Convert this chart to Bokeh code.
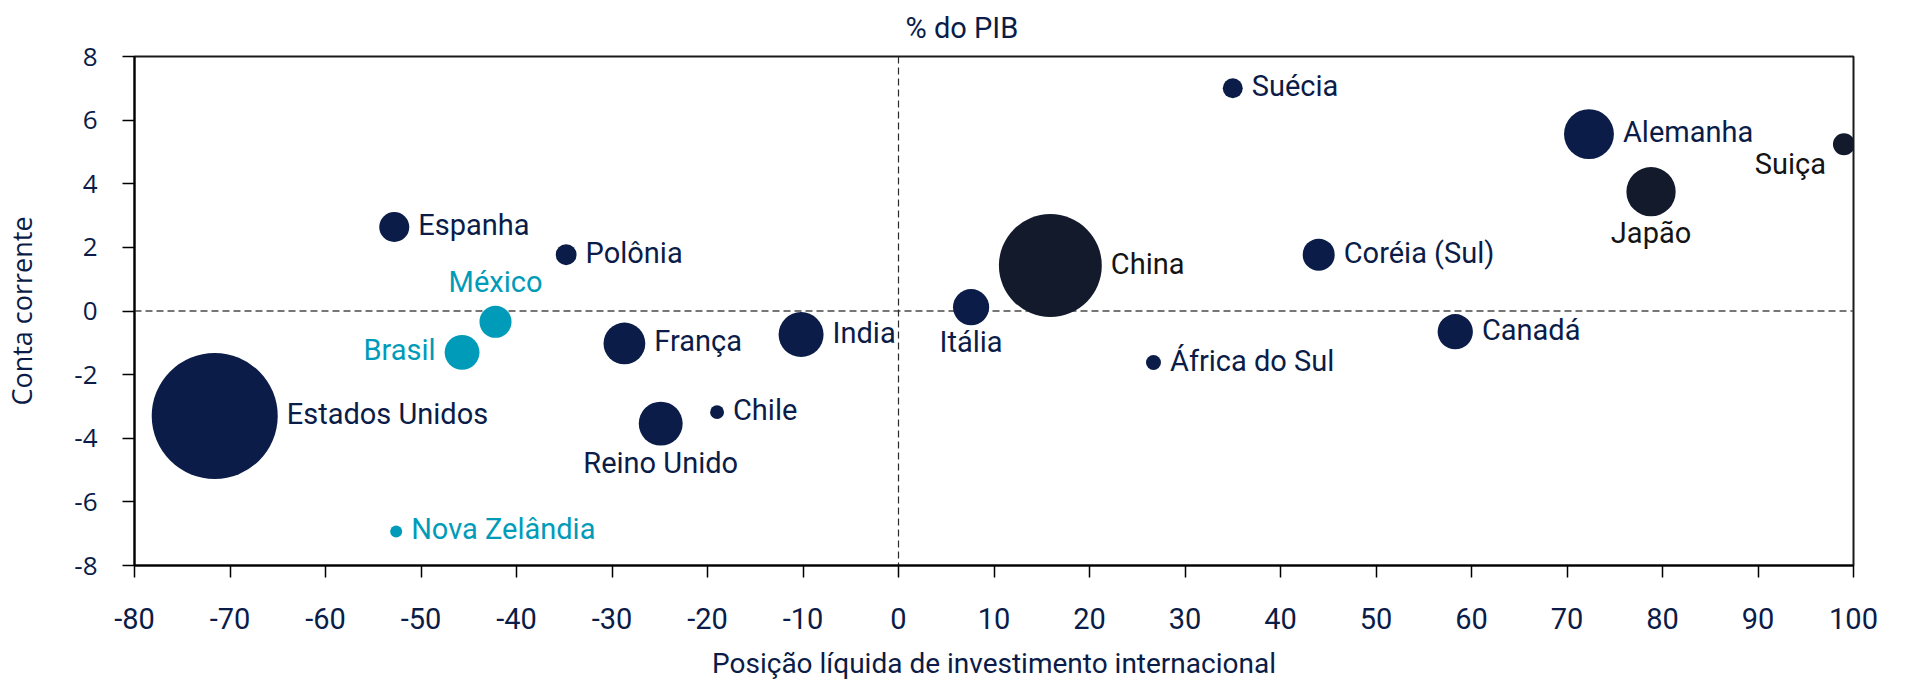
import math
from bokeh.plotting import figure
from bokeh.models import ColumnDataSource, Span, FixedTicker, Title
from bokeh.core.properties import value
from bokeh.embed import file_html
from bokeh.resources import INLINE

# ---------------- data ----------------
paises = ["Estados Unidos", "China", "Alemanha", "Japão", "India", "Reino Unido",
          "França", "Itália", "Brasil", "Canadá", "México", "Coréia (Sul)",
          "Espanha", "Polônia", "Suiça", "Suécia", "Chile", "África do Sul",
          "Nova Zelândia"]
posicao_liquida = [-71.6, 15.9, 72.3, 78.8, -10.2, -24.9, -28.7, 7.6, -45.7, 58.3,
                   -42.2, 44.0, -52.8, -34.8, 99.0, 35.0, -19.0, 26.7, -52.6]
conta_corrente = [-3.30, 1.43, 5.56, 3.75, -0.74, -3.54, -1.02, 0.12, -1.30, -0.65,
                  -0.34, 1.77, 2.64, 1.77, 5.24, 7.00, -3.18, -1.62, -6.93]
pib_tri = [25.5, 17.0, 4.0, 3.9, 3.25, 3.1, 2.8, 2.1, 1.95, 2.0,
           1.65, 1.65, 1.45, 0.70, 0.78, 0.64, 0.31, 0.36, 0.23]
grupo = ["padrao", "escuro", "padrao", "escuro", "padrao", "padrao",
         "padrao", "padrao", "destaque", "padrao", "destaque", "padrao",
         "padrao", "padrao", "escuro", "padrao", "padrao", "padrao",
         "destaque"]
x_ticks = [-80, -70, -60, -50, -40, -30, -20, -10, 0, 10, 20, 30, 40, 50, 60, 70, 80, 90, 100]
x_tick_labels = ["-80", "-70", "-60", "-50", "-40", "-30", "-20", "-10", "0", "10",
                 "20", "30", "40", "50", "60", "70", "80", "90", "100"]
y_ticks = [-8, -6, -4, -2, 0, 2, 4, 6, 8]
y_tick_labels = ["-8", "-6", "-4", "-2", "0", "2", "4", "6", "8"]

# ---------------- styles ----------------
NAVY = "#0a1c47"
DARK = "#131a2b"
TEAL = "#009bb9"
bubble_color = {"padrao": NAVY, "escuro": DARK, "destaque": TEAL}
text_color = {"padrao": NAVY, "escuro": "#141414", "destaque": TEAL}
label_pos = {"Brasil": "left", "México": "above", "Reino Unido": "below",
             "Itália": "below", "Japão": "below", "Suiça": "below-left"}

D_REF = 126.0  # diameter (px) of the largest bubble
diam = [D_REF * math.sqrt(v / max(pib_tri)) for v in pib_tri]

xo, yo, al, bl = [], [], [], []
for n, d in zip(paises, diam):
    r = d / 2
    pos = label_pos.get(n, "right")
    if pos == "right":
        xo.append(r + 9); yo.append(-2); al.append("left"); bl.append("middle")
    elif pos == "left":
        xo.append(-(r + 9)); yo.append(-2); al.append("right"); bl.append("middle")
    elif pos == "above":
        xo.append(0); yo.append(-(r + 24)); al.append("center"); bl.append("alphabetic")
    elif pos == "below":
        xo.append(0); yo.append(r); al.append("center"); bl.append("top")
    else:  # below-left
        xo.append(-(r + 7)); yo.append(r - 8); al.append("right"); bl.append("top")

src = ColumnDataSource(dict(
    x=posicao_liquida, y=conta_corrente, nome=paises, size=diam,
    fill=[bubble_color[g] for g in grupo], tcol=[text_color[g] for g in grupo],
    xo=xo, yo=yo, al=al, bl=bl))

p = figure(width=1891, height=684, x_range=(-80, 100), y_range=(-8, 8),
           output_backend="svg", toolbar_location=None,
           min_border_left=134, min_border_right=38, min_border_top=56,
           min_border_bottom=119)
p.background_fill_color = "white"
p.border_fill_color = "white"
p.outline_line_color = "#1a1a1a"
p.outline_line_width = 2
p.xgrid.visible = False
p.ygrid.visible = False

title = Title(text="% do PIB", align="left", offset=771, standoff=19,
              vertical_align="top",
              text_font="Roboto", text_font_size="29px",
              text_font_style="normal", text_color=NAVY)
p.add_layout(title, "above")

# zero lines (under the bubbles)
p.add_layout(Span(location=0, dimension="width", line_dash="7 4",
                  line_color="#4a4a4a", line_width=1.5, level="underlay"))
p.add_layout(Span(location=0, dimension="height", line_dash="7 4",
                  line_color="#2a2a2a", line_width=1.2, level="underlay"))

p.scatter("x", "y", size="size", source=src, fill_color="fill",
          line_color="fill", line_width=0)
p.text("x", "y", text="nome", source=src, x_offset="xo", y_offset="yo",
       text_align="al", text_baseline="bl", text_color="tcol",
       text_font=value("Roboto"), text_font_size="29px")

# axes
xa = p.xaxis[0]
xa.ticker = FixedTicker(ticks=x_ticks)
xa.major_label_overrides = {t: s for t, s in zip(x_ticks, x_tick_labels)}
xa.axis_label = "Posição líquida de investimento internacional"
xa.axis_label_text_font = "Roboto"
xa.axis_label_text_font_style = "normal"
xa.axis_label_text_font_size = "28px"
xa.axis_label_text_color = NAVY
xa.axis_label_standoff = 15
xa.major_label_text_font = "Roboto"
xa.major_label_text_font_size = "29px"
xa.major_label_text_color = NAVY
xa.major_label_standoff = 30
xa.axis_line_color = "black"
xa.axis_line_width = 2
xa.major_tick_line_color = "black"
xa.major_tick_line_width = 1.5
xa.major_tick_out = 12
xa.major_tick_in = 0
xa.minor_tick_line_color = None

ya = p.yaxis[0]
ya.ticker = FixedTicker(ticks=y_ticks)
ya.major_label_overrides = {t: s for t, s in zip(y_ticks, y_tick_labels)}
ya.axis_label = "Conta corrente"
ya.axis_label_text_font = "Open Sans"
ya.axis_label_text_font_style = "normal"
ya.axis_label_text_font_size = "27px"
ya.axis_label_text_color = NAVY
ya.axis_label_standoff = 31
ya.major_label_text_font = "Open Sans"
ya.major_label_text_font_size = "26px"
ya.major_label_text_color = NAVY
ya.major_label_standoff = 25
ya.axis_line_color = "black"
ya.axis_line_width = 2
ya.major_tick_line_color = "black"
ya.major_tick_line_width = 1.5
ya.major_tick_out = 12
ya.major_tick_in = 0
ya.minor_tick_line_color = None

open("out.html", "w").write(file_html(p, INLINE))
